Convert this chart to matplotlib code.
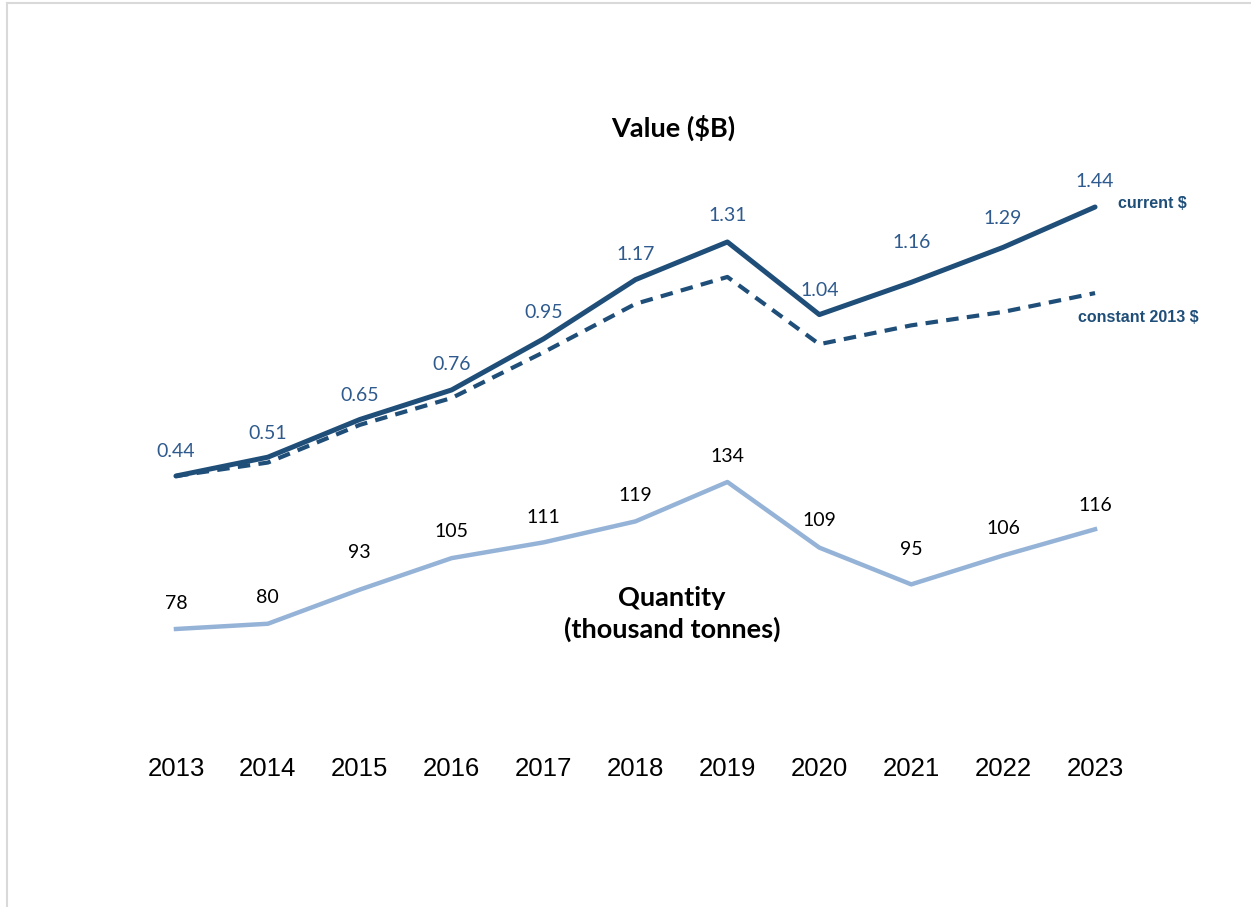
import matplotlib.pyplot as plt
from matplotlib import font_manager
from matplotlib.lines import Line2D

# Data
years = [2013, 2014, 2015, 2016, 2017, 2018, 2019, 2020, 2021, 2022, 2023]
value_current = [0.44, 0.51, 0.65, 0.76, 0.95, 1.17, 1.31, 1.04, 1.16, 1.29, 1.44]
value_constant = [0.44, 0.49, 0.63, 0.73, 0.90, 1.08, 1.18, 0.93, 1.00, 1.05, 1.12]
quantity = [78, 80, 93, 105, 111, 119, 134, 109, 95, 106, 116]

# label offsets above each point (pixels)
value_offsets = [25, 24, 24, 25, 26, 25, 26, 24, 40, 29, 26]
qty_offsets = [25, 26, 37, 27, 25, 26, 25, 27, 35, 27, 24]

DARK = "#1F4E79"
LABEL_BLUE = "#2E5A8E"
LIGHT = "#95B3D7"
LABEL_FONT = ["Lato", "DejaVu Sans"]

# pick a narrow sans for the axis labels and series tags
installed = {f.name for f in font_manager.fontManager.ttflist}
condensed = {f.name for f in font_manager.fontManager.ttflist
             if f.stretch in ("condensed", "semi-condensed", 300, 400) and "Sans" in f.name}
if "Liberation Sans Narrow" in installed:
    NARROW = dict(family=["Liberation Sans Narrow", "DejaVu Sans"])
    YEAR_SIZE, TAG_SIZE = 20, 12.5
elif "DejaVu Sans Condensed" in installed:
    NARROW = dict(family=["DejaVu Sans Condensed", "DejaVu Sans"])
    YEAR_SIZE, TAG_SIZE = 18.5, 11.5
else:
    NARROW = dict(family=["Liberation Sans", "DejaVu Sans"], stretch="condensed")
    YEAR_SIZE, TAG_SIZE = 18.5, 11.5

fig = plt.figure(figsize=(12.51, 9.07), dpi=100)
ax = fig.add_axes([130 / 1251, (907 - 740) / 907, 1011 / 1251, 590 / 907])
ax2 = ax.twinx()

ax.set_xlim(2012.5, 2023.5)
ax.set_ylim(-0.5414, 1.6519)
ax2.set_ylim(35.71, 260.48)

ax.plot(years, value_current, color=DARK, lw=3.6, solid_capstyle="round",
        solid_joinstyle="round", zorder=3)
ax.plot(years, value_constant, color=DARK, lw=3.0, ls=(0, (3, 2)), zorder=2)
ax2.plot(years, quantity, color=LIGHT, lw=3.2, solid_joinstyle="round")

for x, v, off in zip(years, value_current, value_offsets):
    ax.annotate(f"{v:.2f}", (x, v), xytext=(0, off), textcoords="offset pixels",
                ha="center", va="center", fontsize=14, color=LABEL_BLUE,
                family=LABEL_FONT)
for x, q, off in zip(years, quantity, qty_offsets):
    ax2.annotate(f"{q}", (x, q), xytext=(0, off), textcoords="offset pixels",
                 ha="center", va="center", fontsize=14, color="black",
                 family=LABEL_FONT)

# series tags at the right end
ax.annotate("current $", (years[-1], value_current[-1]), xytext=(57, 4),
            textcoords="offset pixels", ha="center", va="center",
            fontsize=TAG_SIZE, fontweight="bold", color=DARK, **NARROW)
ax.annotate("constant 2013 $", (years[-1], value_constant[-1]), xytext=(43, -24),
            textcoords="offset pixels", ha="center", va="center",
            fontsize=TAG_SIZE, fontweight="bold", color=DARK, **NARROW)

fig.text(673 / 1251, 1 - 128 / 907, "Value ($B)", ha="center", va="center",
         fontsize=19.5, fontweight="bold", family=LABEL_FONT)
fig.text(672 / 1251, 1 - 614 / 907, "Quantity\n(thousand tonnes)", ha="center",
         va="center", fontsize=19.5, fontweight="bold", family=LABEL_FONT,
         linespacing=1.3)

ax.set_xticks(years)
ax.set_xticklabels([str(y) for y in years], fontsize=YEAR_SIZE, **NARROW)
ax.tick_params(axis="x", length=0, pad=12)
ax.set_yticks([])
ax2.set_yticks([])
for a in (ax, ax2):
    for s in a.spines.values():
        s.set_visible(False)
    a.patch.set_visible(False)

# light frame along the left and top edges
fig.add_artist(Line2D([7 / 1251, 7 / 1251], [0, 1 - 3 / 907], color="#d9d9d9", lw=1.5))
fig.add_artist(Line2D([7 / 1251, 1], [1 - 3 / 907, 1 - 3 / 907], color="#d9d9d9", lw=1.5))

fig.savefig("out.png", dpi=100, facecolor="white")
